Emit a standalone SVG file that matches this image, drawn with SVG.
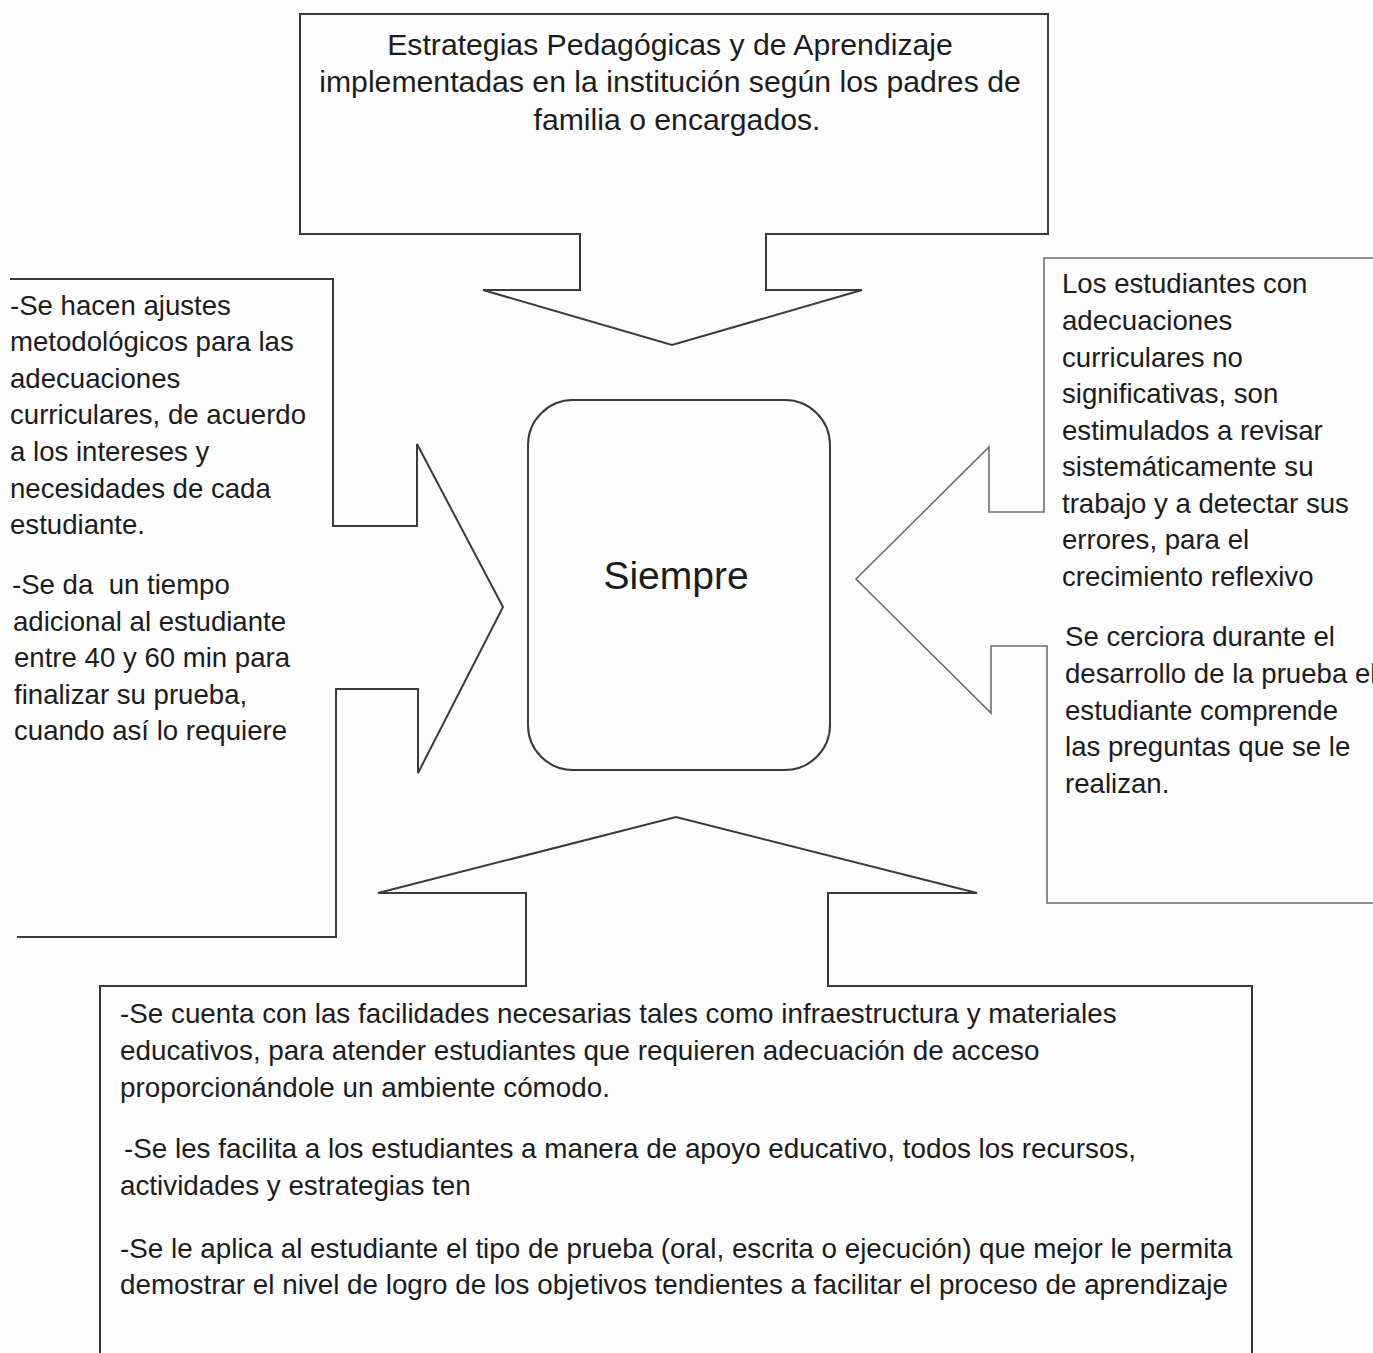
<svg xmlns="http://www.w3.org/2000/svg" width="1373" height="1353" viewBox="0 0 1373 1353">
<style>
.bg{fill:#fdfdfd}
.shape{fill:none;stroke:#3a3a3a;stroke-width:2;stroke-linejoin:miter}
.light{stroke:#6e6e6e;stroke-width:1.6}
.t{font-family:"Liberation Sans",Arial,sans-serif;fill:#1c1c1c}
.title{font-size:30.2px;text-anchor:middle}
.side{font-size:27.6px}
.bot{font-size:27.8px}
.big{font-size:39px;text-anchor:middle}
</style>
<rect class="bg" x="0" y="0" width="1373" height="1353"/>
<g id="connectors"></g>
<g id="node-top">
<polygon class="shape" points="300,14 1048,14 1048,234 766,234 766,290 862,290 672,345 483,290 580,290 580,234 300,234"/>
<text class="t title"><tspan x="670" y="55">Estrategias Pedagógicas y de Aprendizaje</tspan><tspan x="670" y="92">implementadas en la institución según los padres de</tspan><tspan x="677" y="130">familia o encargados.</tspan></text>
</g>
<g id="node-left">
<polyline class="shape" points="10,279 333,279 333,526 417,526 417,444 503,607 418,773 418,689 336,689 336,937 17,937"/>
<text class="t side"><tspan x="10" y="315">-Se hacen ajustes</tspan><tspan x="10" y="351">metodológicos para las</tspan><tspan x="10" y="388">adecuaciones</tspan><tspan x="10" y="424">curriculares, de acuerdo</tspan><tspan x="10" y="461">a los intereses y</tspan><tspan x="10" y="498">necesidades de cada</tspan><tspan x="10" y="534">estudiante.</tspan><tspan x="12" y="594">-Se da&#160; un tiempo</tspan><tspan x="13" y="631">adicional al estudiante</tspan><tspan x="14" y="667">entre 40 y 60 min para</tspan><tspan x="14" y="704">finalizar su prueba,</tspan><tspan x="14" y="740">cuando así lo requiere</tspan></text>
</g>
<g id="node-right">
<polyline class="shape light" points="1373,258 1044,258 1044,512 989,512 989,447 856,579 991,713 991,646 1047,646 1047,903 1373,903"/>
<text class="t side"><tspan x="1062" y="293">Los estudiantes con</tspan><tspan x="1062" y="330">adecuaciones</tspan><tspan x="1062" y="367">curriculares no</tspan><tspan x="1062" y="403">significativas, son</tspan><tspan x="1062" y="440">estimulados a revisar</tspan><tspan x="1062" y="476">sistemáticamente su</tspan><tspan x="1062" y="513">trabajo y a detectar sus</tspan><tspan x="1062" y="549">errores, para el</tspan><tspan x="1062" y="586">crecimiento reflexivo</tspan><tspan x="1065" y="646">Se cerciora durante el</tspan><tspan x="1065" y="683">desarrollo de la prueba el</tspan><tspan x="1065" y="720">estudiante comprende</tspan><tspan x="1065" y="756">las preguntas que se le</tspan><tspan x="1065" y="793">realizan.</tspan></text>
</g>
<g id="node-bottom">
<polyline class="shape" points="100,1353 100,986 526,986 526,893 378,893 676,817 977,893 828,893 828,986 1252,986 1252,1353"/>
<text class="t bot"><tspan x="120" y="1023">-Se cuenta con las facilidades necesarias tales como infraestructura y materiales</tspan><tspan x="120" y="1060">educativos, para atender estudiantes que requieren adecuación de acceso</tspan><tspan x="120" y="1097">proporcionándole un ambiente cómodo.</tspan><tspan x="124" y="1158">-Se les facilita a los estudiantes a manera de apoyo educativo, todos los recursos,</tspan><tspan x="120" y="1195">actividades y estrategias ten</tspan><tspan x="120" y="1258">-Se le aplica al estudiante el tipo de prueba (oral, escrita o ejecución) que mejor le permita</tspan><tspan x="120" y="1294">demostrar el nivel de logro de los objetivos tendientes a facilitar el proceso de aprendizaje</tspan></text>
</g>
<g id="node-center">
<rect class="shape" x="528" y="400" width="302" height="370" rx="45" ry="45"/>
<text class="t big" x="676" y="589">Siempre</text>
</g>
</svg>
